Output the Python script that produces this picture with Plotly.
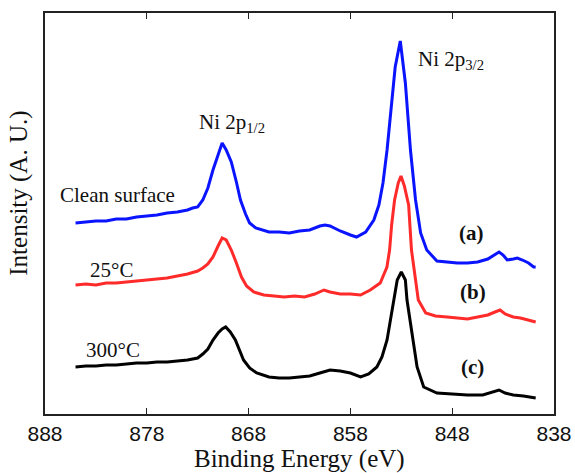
import plotly.graph_objects as go

# ---- data (binding energy in eV, intensity in arbitrary units) ----
energy_a = [885.0, 884.0, 883.0, 882.0, 881.0, 880.0, 879.0, 878.0, 877.0, 876.0,
            875.0, 874.0, 873.5, 873.0, 872.5, 872.0, 871.5, 871.0, 870.6, 870.2,
            869.7, 869.2, 868.8, 868.3, 867.9, 867.3, 866.6, 866.0, 865.0, 864.0,
            863.0, 862.0, 861.0, 860.5, 860.0, 859.0, 858.0, 857.4, 856.5, 855.7,
            855.2, 854.8, 854.4, 854.1, 853.6, 853.1, 852.6, 852.1, 851.6, 851.1,
            850.5, 849.5, 848.5, 847.5, 846.5, 845.5, 844.5, 844.0, 843.4, 843.0,
            842.6, 842.0, 841.6, 841.1, 840.5, 840.0, 839.8]
clean_surface = [194, 195, 196, 196, 198, 198, 200, 201, 202, 204,
                 205, 207, 209, 210, 217, 229, 247, 262, 274, 267,
                 255, 235, 217, 203, 194, 189, 187, 185, 185, 184,
                 186, 187, 191, 192, 191, 186, 182, 180, 185, 197,
                 212, 234, 267, 300, 350, 376, 334, 267, 217, 184,
                 167, 156, 155, 154, 154, 155, 158, 161, 165, 162,
                 157, 158, 159, 157, 154, 150, 150]

energy_b = [885.0, 884.0, 883.0, 882.0, 881.0, 880.0, 879.0, 878.0, 877.0, 876.0,
            875.0, 874.0, 873.0, 872.5, 872.0, 871.5, 871.0, 870.6, 870.2, 869.7,
            869.2, 868.7, 868.2, 867.5, 866.5, 865.5, 864.5, 863.5, 862.5, 861.5,
            860.6, 860.0, 859.0, 858.0, 857.0, 856.05, 855.07, 854.41, 854.15, 853.95,
            853.66, 853.3, 853.03, 852.7, 852.28, 852.0, 851.6, 851.33, 850.6, 849.65,
            848.5, 847.5, 846.5, 845.5, 844.5, 843.8, 843.3, 842.8, 842.0, 841.3,
            840.5, 839.8]
at_25C = [132, 133, 132, 134, 134, 135, 136, 137, 138, 139,
          141, 143, 146, 149, 153, 160, 171, 179, 177, 167,
          154, 140, 131, 125, 122, 121, 120, 121, 120, 123,
          127, 125, 123, 123, 122, 127, 134, 150, 167, 192,
          217, 234, 241, 231, 212, 167, 137, 117, 104, 101,
          100, 99, 98, 100, 102, 105, 107, 103, 100, 99,
          97, 95]

energy_c = [885.0, 884.0, 883.0, 882.0, 881.0, 880.0, 879.0, 878.0, 877.0, 876.0,
            875.0, 874.0, 873.0, 872.5, 872.0, 871.5, 871.0, 870.6, 870.25, 869.8,
            869.3, 868.9, 868.5, 867.9, 867.2, 866.0, 865.0, 864.0, 863.0, 862.0,
            861.0, 860.0, 859.0, 858.0, 857.0, 856.2, 855.4, 854.9, 854.4, 853.9,
            853.4, 853.0, 852.6, 852.44, 851.95, 851.45, 850.8, 849.5, 848.0, 846.5,
            845.0, 844.0, 843.4, 842.8, 842.0, 841.0, 840.0, 839.8]
at_300C = [50, 51, 51, 52, 52, 53, 54, 54, 55, 55,
           56, 57, 59, 63, 68, 77, 84, 88, 90, 85,
           77, 67, 57, 49, 44, 40, 39, 39, 40, 41,
           44, 47, 46, 44, 40, 43, 50, 60, 77, 107,
           137, 145, 137, 117, 84, 50, 30, 24, 23, 22,
           22, 25, 27, 24, 22, 21, 19, 19]

x_ticks = [888, 878, 868, 858, 848, 838]

serif = "Liberation Serif"
sans = "Liberation Sans"

fig = go.Figure()
fig.add_trace(go.Scatter(x=energy_a, y=clean_surface, mode="lines",
                         line=dict(color="#0a14ff", width=3), name="Clean surface"))
fig.add_trace(go.Scatter(x=energy_b, y=at_25C, mode="lines",
                         line=dict(color="#ff2a2a", width=3), name="25°C"))
fig.add_trace(go.Scatter(x=energy_c, y=at_300C, mode="lines",
                         line=dict(color="#000000", width=3), name="300°C"))

labels = [
    ("Ni 2p<sub>1/2</sub>", 869.6, 294),
    ("Ni 2p<sub>3/2</sub>", 848.1, 357),
    ("Clean surface", 880.9, 222),
    ("25°C", 881.5, 147),
    ("300°C", 881.35, 67),
    ("<b>(a)</b>", 846.1, 184),
    ("<b>(b)</b>", 846.0, 125),
    ("<b>(c)</b>", 846.0, 50),
]
for text, xv, yv in labels:
    fig.add_annotation(x=xv, y=yv, text=text, showarrow=False,
                       xref="x", yref="y", xanchor="center", yanchor="middle",
                       font=dict(family=serif, size=21, color="#111"))

# axis titles
fig.add_annotation(x=-0.082, y=0.55, xref="paper", yref="paper",
                   text="Intensity (A. U.)", textangle=-90, showarrow=False,
                   font=dict(family=serif, size=25, color="#111"))
fig.add_annotation(x=0.5, y=-0.112, xref="paper", yref="paper",
                   xanchor="center", yanchor="middle",
                   text="Binding Energy (eV)", showarrow=False,
                   font=dict(family=serif, size=25, color="#111"))

fig.update_layout(
    width=575, height=473,
    margin=dict(l=45, r=21, t=13, b=59, autoexpand=False),
    paper_bgcolor="white", plot_bgcolor="white",
    showlegend=False,
    xaxis=dict(range=[888, 838], tickvals=x_ticks,
               ticktext=[str(v) for v in x_ticks],
               ticks="inside", ticklen=6, tickwidth=1.2, tickcolor="#222",
               showline=True, linecolor="#222", linewidth=1.5, mirror="ticks",
               showgrid=False, zeroline=False, automargin=False,
               tickfont=dict(family=sans, size=21, color="#111"),
               ticklabelstandoff=0),
    yaxis=dict(range=[3, 404], showticklabels=False, ticks="",
               showline=True, linecolor="#222", linewidth=1.5, mirror=True,
               showgrid=False, zeroline=False, automargin=False),
)

fig.write_html("out.html")
